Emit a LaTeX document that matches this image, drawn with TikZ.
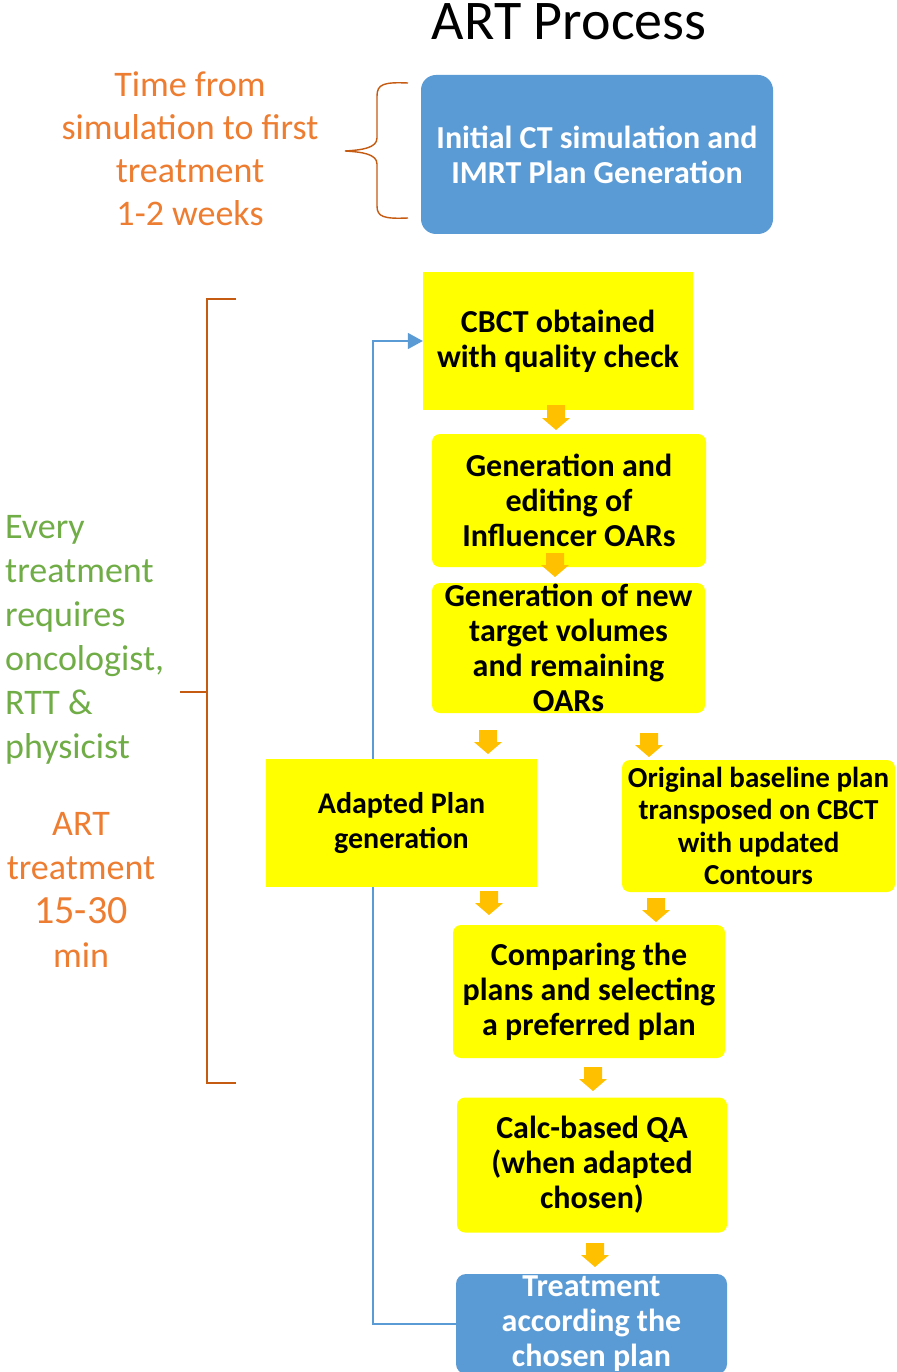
\documentclass[tikz,border=0pt]{standalone}
\usepackage{fontspec}
\setmainfont{Carlito}
\usetikzlibrary{arrows.meta}
\pgfdeclarelayer{background}
\pgfsetlayers{background,main}
\definecolor{boxblue}{HTML}{5B9BD5}
\definecolor{boxyellow}{HTML}{FFFF00}
\definecolor{arrowgold}{HTML}{FFC000}
\definecolor{txtorange}{HTML}{ED7D31}
\definecolor{brkorange}{HTML}{C55A11}
\definecolor{txtgreen}{HTML}{70AD47}
\newcommand{\blockarrow}[3]{\fill[arrowgold] (#1-9,#2) -- (#1+9,#2) -- (#1+9,#3-12) -- (#1+14,#3-12) -- (#1,#3) -- (#1-14,#3-12) -- (#1-9,#3-12) -- cycle;}
\begin{document}
\begin{tikzpicture}[x=1pt,y=-1pt,
  ybox/.style={fill=boxyellow, inner sep=0pt, align=center, font=\bfseries\fontsize{32}{35}\selectfont},
  rbox/.style={ybox, rounded corners=8pt},
  bbox/.style={fill=boxblue, text=white, inner sep=0pt, align=center, font=\bfseries\fontsize{32}{35}\selectfont},
  brkline/.style={draw=brkorange, line width=1.4pt},
  fbline/.style={draw=boxblue, line width=1.5pt, -{Triangle[length=15pt,width=16pt]}}
]
\useasboundingbox (0,0) rectangle (896,1372);

% title
\node[anchor=base, font=\fontsize{56}{60}\selectfont, inner sep=0pt] (title) at (569,40) {ART Process};

% initial box and brace
\node[bbox, rounded corners=15pt, minimum width=352pt, minimum height=159pt] (init) at (597,154.5) {Initial CT simulation and\\IMRT Plan Generation};
\draw[brkline] (408,83) .. controls (384,82) and (377,84) .. (377,96) -- (377,138) .. controls (377,148) and (362,150) .. (345,151) .. controls (362,152) and (377,154) .. (377,164) -- (377,206) .. controls (377,217) and (384,219) .. (408,218);
\node[text=txtorange, align=center, font=\fontsize{36}{43}\selectfont, inner sep=0pt] (timetxt) at (190,148.5) {Time from\\simulation to first\\treatment\\1-2 weeks};

% bracket
\draw[brkline] (236,299) -- (207,299) -- (207,1083) -- (236,1083);
\draw[brkline] (180,692) -- (207,692);
\node[text=txtgreen, align=left, anchor=west, font=\fontsize{36}{44}\selectfont, inner sep=0pt] (every) at (5,640) {Every\\treatment\\requires\\oncologist,\\RTT \&\\physicist};
\node[text=txtorange, align=center, font=\fontsize{36}{44}\selectfont, inner sep=0pt] (arttxt) at (81,890) {ART\\treatment\\{\fontsize{40}{44}\selectfont 15-30}\\min};

% process boxes
\node[ybox, minimum width=270pt, minimum height=138pt] (cbct) at (558,341) {CBCT obtained\\with quality check};
\node[rbox, minimum width=274pt, minimum height=133pt] (gen1) at (569,500.5) {Generation and\\editing of\\Influencer OARs};
\node[rbox, minimum width=273pt, minimum height=130pt] (gen2) at (568.5,648) {Generation of new\\target volumes\\and remaining\\OARs};
\node[ybox, minimum width=271pt, minimum height=128pt, font=\bfseries\fontsize{30}{35}\selectfont] (adapt) at (401.5,823) {Adapted Plan\\generation};
\node[rbox, minimum width=273pt, minimum height=132pt, font=\bfseries\fontsize{29}{32.5}\selectfont] (orig) at (758.5,826) {Original baseline plan\\transposed on CBCT\\with updated\\Contours};
\node[rbox, minimum width=272pt, minimum height=133pt] (comp) at (589,991.5) {Comparing the\\plans and selecting\\a preferred plan};
\node[rbox, minimum width=270pt, minimum height=135pt] (calc) at (592,1165) {Calc-based QA\\(when adapted\\chosen)};
\node[bbox, rounded corners=10pt, minimum width=271pt, minimum height=100pt] (treat) at (591.5,1324) {Treatment\\according the\\chosen plan};

% block arrows
\blockarrow{556}{405}{430}
\blockarrow{555}{553}{577}
\blockarrow{488}{730}{754}
\blockarrow{649}{733}{757}
\blockarrow{489}{891}{915}
\blockarrow{656}{898}{922}
\blockarrow{593}{1067}{1091}
\blockarrow{595}{1243}{1267}

% feedback loop (behind the boxes)
\begin{pgfonlayer}{background}
\fill[white] (0,0) rectangle (896,1372);
\coordinate (fb) at (373,1324);
\draw[fbline] (treat.west) -- (fb) |- (cbct.west);
\end{pgfonlayer}
\end{tikzpicture}
\end{document}
